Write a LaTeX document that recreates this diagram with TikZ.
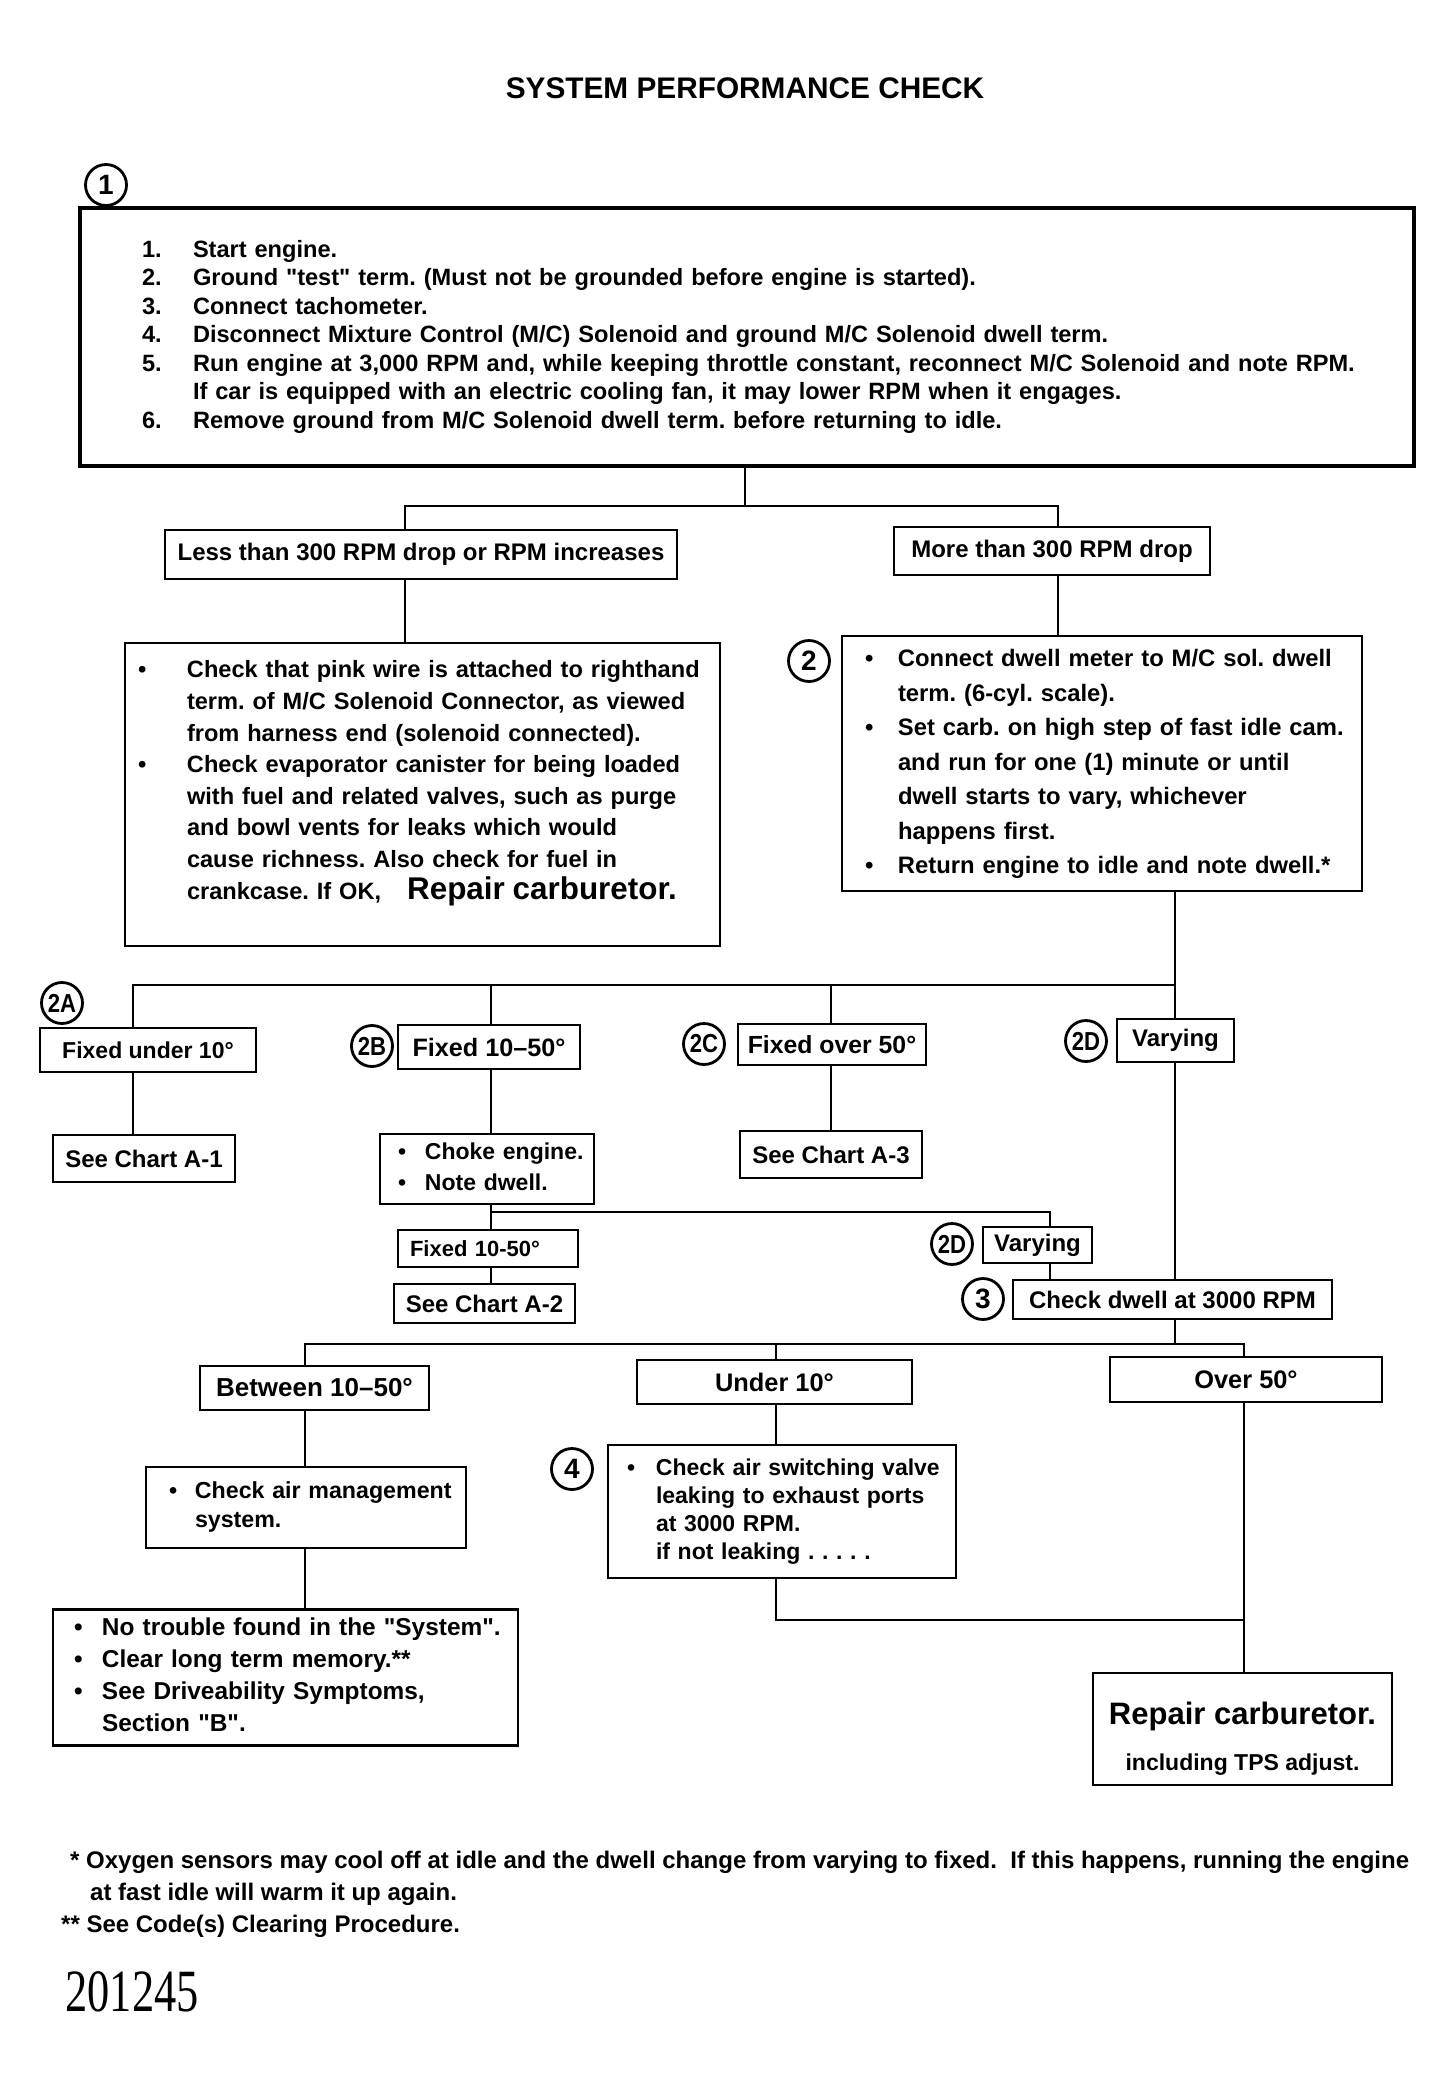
\documentclass[tikz,border=0pt]{standalone}
\usepackage{fontspec}
\setmainfont{Liberation Sans}[Ligatures=TeXOff]
\newfontfamily\codefont{Liberation Serif}
\frenchspacing

\begin{document}
\begin{tikzpicture}[x=0.5pt,y=-0.5pt,line width=1.2pt,font=\bfseries\fontsize{12}{14}\selectfont]
\tikzstyle{box}=[draw,line width=1.4pt,inner sep=2pt,align=center]
\tikzstyle{listbox}=[box,align=left]
\tikzstyle{numcirc}=[draw,circle,line width=1.4pt,inner sep=0pt,minimum size=20.5pt,font=\bfseries\fontsize{14}{14}\selectfont]
\tikzstyle{subcirc}=[numcirc,font=\bfseries\fontsize{13}{13}\selectfont]

\fill[white] (0,0) rectangle (1454,2083);
\useasboundingbox (0,0) rectangle (1454,2083);

\node[font=\bfseries\fontsize{14.9}{17}\selectfont] (title) at (745,88) {SYSTEM PERFORMANCE CHECK};

% step 1
\node[numcirc] (n1) at (106,185) {1};
\node[listbox,line width=1.6pt,minimum width=667pt,minimum height=129pt,text width=605pt,inner xsep=31pt,font=\bfseries\fontsize{11.8}{14.25}\selectfont] (steps) at (747,337) {%
\begin{tabular}{@{}p{25.5pt}@{}l@{}}
1. & Start engine.\\
2. & Ground "test" term. (Must not be grounded before engine is started).\\
3. & Connect tachometer.\\
4. & Disconnect Mixture Control (M/C) Solenoid and ground M/C Solenoid dwell term.\\
5. & Run engine at 3,000 RPM and, while keeping throttle constant, reconnect M/C Solenoid and note RPM.\\
   & If car is equipped with an electric cooling fan, it may lower RPM when it engages.\\
6. & Remove ground from M/C Solenoid dwell term. before returning to idle.
\end{tabular}};

\node[box,minimum width=256pt,minimum height=24.5pt] (lt) at (421,554.5) {Less than 300 RPM drop or RPM increases};
\node[box,minimum width=158pt,minimum height=24pt] (mt) at (1052,551) {More than 300 RPM drop};

\node[listbox,minimum width=297.5pt,minimum height=151.5pt,text width=284.5pt,inner xsep=6.5pt,font=\bfseries\fontsize{11.8}{15.8}\selectfont] (pink) at (422.5,794.5) {%
\begin{tabular}{@{}p{24.5pt}@{}l@{}}
\textbullet & Check that pink wire is attached to righthand\\
 & term. of M/C Solenoid Connector, as viewed\\
 & from harness end (solenoid connected).\\
\textbullet & Check evaporator canister for being loaded\\
 & with fuel and related valves, such as purge\\
 & and bowl vents for leaks which would\\
 & cause richness. Also check for fuel in\\
 & crankcase. If OK,\hspace{13pt}{\fontsize{15.7}{15.7}\selectfont Repair carburetor.}\\[12pt]
\end{tabular}};

% step 2
\node[numcirc] (n2) at (809,661) {2};
\node[listbox,minimum width=260pt,minimum height=127.5pt,text width=237pt,inner xsep=11.5pt,font=\bfseries\fontsize{11.9}{17.25}\selectfont] (dwell) at (1102,763.5) {%
\begin{tabular}{@{}p{16.5pt}@{}l@{}}
\textbullet & Connect dwell meter to M/C sol. dwell\\
 & term. (6-cyl. scale).\\
\textbullet & Set carb. on high step of fast idle cam.\\
 & and run for one (1) minute or until\\
 & dwell starts to vary, whichever\\
 & happens first.\\
\textbullet & Return engine to idle and note dwell.*
\end{tabular}};

% dwell readings
\node[subcirc] (n2a) at (62,1003) {\scalebox{0.85}[1]{2A}};
\node[box,minimum width=108pt,minimum height=22pt,font=\bfseries\fontsize{11.5}{14}\selectfont] (fu) at (148,1050) {Fixed under 10°};
\node[box,minimum width=91pt,minimum height=23.5pt] (sa1) at (144,1158.5) {See Chart A-1};
\node[subcirc] (n2b) at (372,1046) {\scalebox{0.85}[1]{2B}};
\node[box,minimum width=91pt,minimum height=22pt,font=\bfseries\fontsize{12.6}{14}\selectfont] (fm) at (489,1047) {Fixed 10–50°};
\node[listbox,minimum width=107pt,minimum height=34pt,text width=89pt,inner xsep=9pt,font=\bfseries\fontsize{11.5}{15.5}\selectfont] (choke) at (487,1169) {%
\begin{tabular}{@{}p{13.5pt}@{}l@{}}
\textbullet & Choke engine.\\
\textbullet & Note dwell.
\end{tabular}};
\node[subcirc] (n2c) at (704,1044) {\scalebox{0.85}[1]{2C}};
\node[box,minimum width=94pt,minimum height=20.5pt,font=\bfseries\fontsize{12.4}{14}\selectfont] (fo) at (832,1044.5) {Fixed over 50°};
\node[box,minimum width=91pt,minimum height=23.5pt] (sa3) at (831,1154.5) {See Chart A-3};
\node[subcirc] (n2d) at (1086,1041) {\scalebox{0.85}[1]{2D}};
\node[box,minimum width=58.5pt,minimum height=21.5pt] (vary) at (1175.5,1040.5) {Varying};

\node[listbox,minimum width=90pt,minimum height=18.5pt,text width=78pt,inner xsep=6pt,font=\bfseries\fontsize{11}{13}\selectfont] (fm2) at (488,1248.5) {Fixed 10-50°};
\node[box,minimum width=90.5pt,minimum height=19.5pt] (sa2) at (484.5,1303.5) {See Chart A-2};
\node[subcirc] (n2e) at (952,1244) {\scalebox{0.85}[1]{2D}};
\node[box,minimum width=54.5pt,minimum height=18pt] (vary2) at (1037.5,1245) {Varying};

% step 3
\node[numcirc] (n3) at (983,1299) {3};
\node[box,minimum width=159.5pt,minimum height=19.5pt] (chk) at (1172.5,1299.5) {Check dwell at 3000 RPM};

\node[box,minimum width=114.5pt,minimum height=22pt,font=\bfseries\fontsize{13}{14}\selectfont] (btw) at (314.5,1388) {Between 10–50°};
\node[box,minimum width=137.5pt,minimum height=22pt,font=\bfseries\fontsize{12.7}{14}\selectfont] (und) at (774.5,1382) {Under 10°};
\node[box,minimum width=136pt,minimum height=22.5pt,font=\bfseries\fontsize{12.7}{14}\selectfont] (ovr) at (1246,1379.5) {Over 50°};

\node[listbox,minimum width=160pt,minimum height=40.5pt,text width=137pt,inner xsep=11.5pt,font=\bfseries\fontsize{11.6}{14.5}\selectfont] (airm) at (306,1507.5) {%
\begin{tabular}{@{}p{13pt}@{}l@{}}
\textbullet & Check air management\\
 & system.
\end{tabular}};
\node[listbox,minimum width=232.5pt,minimum height=66.5pt,text width=211.5pt,inner xsep=10.5pt,font=\bfseries\fontsize{12.2}{16}\selectfont] (nt) at (285.5,1677.5) {%
\begin{tabular}{@{}p{14pt}@{}l@{}}
\textbullet & No trouble found in the "System".\\
\textbullet & Clear long term memory.**\\
\textbullet & See Driveability Symptoms,\\
 & Section "B".
\end{tabular}};

% step 4
\node[numcirc] (n4) at (572,1469) {4};
\node[listbox,minimum width=174pt,minimum height=66.5pt,text width=155pt,inner xsep=9.5pt,font=\bfseries\fontsize{11.5}{14}\selectfont] (asv) at (782,1511.5) {%
\begin{tabular}{@{}p{14.5pt}@{}l@{}}
\textbullet & Check air switching valve\\
 & leaking to exhaust ports\\
 & at 3000 RPM.\\
 & if not leaking . . . . .
\end{tabular}};
\node[box,minimum width=149.5pt,minimum height=56pt,font=\bfseries\fontsize{11.5}{14}\selectfont] (rep) at (1242.5,1729) {{\fontsize{15.5}{15.5}\selectfont\rule{0pt}{21pt}Repair carburetor.}\\[9pt]including TPS adjust.};

% connectors
\coordinate (j1) at (745,506);
\coordinate (j1l) at (405,506);
\coordinate (j1r) at (1058,506);
\draw (steps.south -| j1) -- (j1);
\draw (lt.north -| j1l) -- (j1l) -- (j1r) -- (mt.north -| j1r);
\draw (lt.south -| j1l) -- (pink.north -| j1l);
\draw (mt.south -| j1r) -- (dwell.north -| j1r);

\coordinate (jal) at (133,985);
\coordinate (jar) at (1175,985);
\draw (dwell.south -| jar) -- (vary.north -| jar);
\draw (jar) -- (jal) -- (fu.north -| jal);
\draw (fu.south -| jal) -- (sa1.north -| jal);
\draw (fm.north -| 491,985) -- (491,985);
\draw (fm.south -| 491,985) -- (choke.north -| 491,985);
\draw (fo.north -| 831,985) -- (831,985);
\draw (fo.south -| 831,985) -- (sa3.north -| 831,985);
\draw (vary.south -| jar) -- (chk.north -| jar);

\coordinate (jbl) at (491,1212);
\coordinate (jbr) at (1050,1212);
\draw (choke.south -| jbl) -- (fm2.north -| jbl);
\draw (jbl) -- (jbr) -- (vary2.north -| jbr);
\draw (fm2.south -| jbl) -- (sa2.north -| jbl);
\draw (vary2.south -| jbr) -- (chk.north -| jbr);

\coordinate (jcl) at (305,1344);
\coordinate (jcm) at (776,1344);
\coordinate (jcr) at (1244,1344);
\draw (chk.south -| jar) -- (jar |- jcl);
\draw (btw.north -| jcl) -- (jcl) -- (jcr) -- (ovr.north -| jcr);
\draw (jcm) -- (und.north -| jcm);
\draw (btw.south -| jcl) -- (airm.north -| jcl);
\draw (airm.south -| jcl) -- (nt.north -| jcl);
\draw (und.south -| jcm) -- (asv.north -| jcm);
\coordinate (jd) at (776,1620);
\draw (asv.south -| jd) -- (jd) -- (jd -| jcr);
\draw (ovr.south -| jcr) -- (rep.north -| jcr);

% footnotes
\node[anchor=west,align=left,inner sep=0pt,font=\bfseries\fontsize{12}{16}\selectfont] (notes) at (60,1894) {%
\hspace*{4.5pt}* Oxygen sensors may cool off at idle and the dwell change from varying to fixed.\ \ If this happens, running the engine\\
\hspace*{14.5pt}at fast idle will warm it up again.\\
** See Code(s) Clearing Procedure.};
\node[font=\codefont\fontsize{30}{30}\selectfont] (code) at (132,1992) {\scalebox{0.74}[1]{201245}};
\end{tikzpicture}
\end{document}
